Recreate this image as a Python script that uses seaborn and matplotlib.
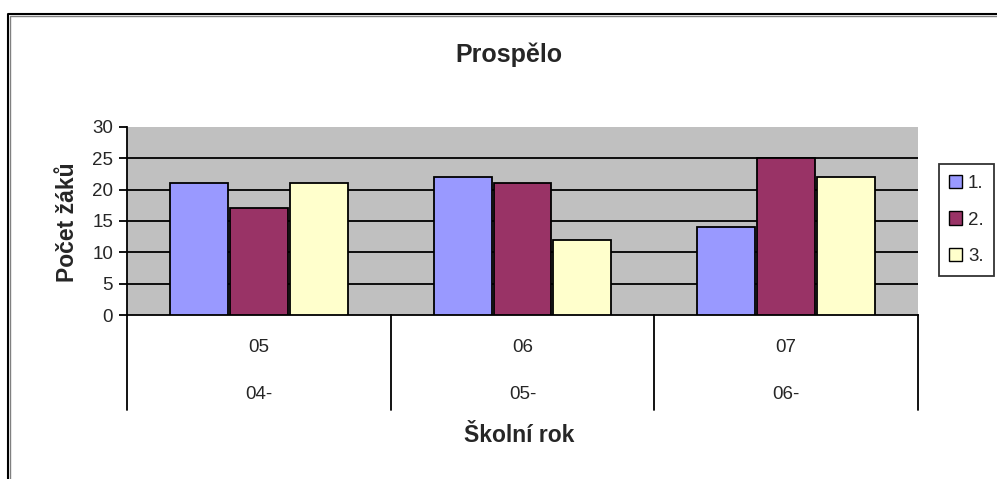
import matplotlib
matplotlib.use("Agg")
import matplotlib.pyplot as plt
from matplotlib.lines import Line2D
from matplotlib.patches import Patch
import matplotlib.transforms as mtransforms
import seaborn as sns
import pandas as pd

# ---- data ----
categories_top = ["05", "06", "07"]
categories_bottom = ["04-", "05-", "06-"]
series_names = ["1.", "2.", "3."]
values_1 = [21, 22, 14]
values_2 = [17, 21, 25]
values_3 = [21, 12, 22]
colors = ["#9999FF", "#993366", "#FFFFCC"]
y_ticks = [0, 5, 10, 15, 20, 25, 30]

rows = []
for s, vals in zip(series_names, [values_1, values_2, values_3]):
    for c, v in zip(categories_top, vals):
        rows.append({"cat": c, "series": s, "value": v})
df = pd.DataFrame(rows)

sns.set_theme(style="white")
plt.rcParams['font.family'] = ['Liberation Sans', 'DejaVu Sans']

W, H = 997, 479
fig = plt.figure(figsize=(W / 100, H / 100), dpi=100)
fig.patch.set_facecolor("white")

left, right, top, bottom = 127, 918, 127, 315
ax = fig.add_axes([left / W, 1 - bottom / H, (right - left) / W, (bottom - top) / H])
ax.set_facecolor("#C0C0C0")

sns.barplot(data=df, x="cat", y="value", hue="series", order=categories_top,
            hue_order=series_names, palette=colors, saturation=1, width=0.68, gap=0.03,
            edgecolor="black", linewidth=1.3, ax=ax, legend=False, zorder=3)

ax.set_ylim(0, 30)
ax.set_xlim(-0.5, 2.5)
ax.set_yticks(y_ticks)
ax.set_yticklabels([str(t) for t in y_ticks], fontsize=13.5)
for t in [5, 10, 15, 20, 25]:
    ax.axhline(t, color="black", linewidth=1.3, zorder=1)

ax.tick_params(axis="y", direction="out", length=6, width=1.3, color="black", pad=4, left=True)
ax.tick_params(axis="x", bottom=False, labelbottom=False)
ax.set_xlabel("")
ax.set_ylabel("")

for side in ["top", "right"]:
    ax.spines[side].set_visible(False)
for side in ["left", "bottom"]:
    ax.spines[side].set_color("black")
    ax.spines[side].set_linewidth(1.3)

# multi-level category axis
trans = mtransforms.blended_transform_factory(ax.transData, ax.transAxes)
for xb in [-0.5, 0.5, 1.5, 2.5]:
    ax.plot([xb, xb], [0, -0.505], transform=trans, color="black", lw=1.3, clip_on=False)
for i, (a, b) in enumerate(zip(categories_top, categories_bottom)):
    ax.text(i, -0.175, a, transform=trans, ha="center", va="center", fontsize=13.5)
    ax.text(i, -0.425, b, transform=trans, ha="center", va="center", fontsize=13.5)

# titles
fig.text(509 / W, 1 - 55 / H, "Prospělo", ha="center", va="center", fontsize=18, fontweight="bold")
fig.text(519 / W, 1 - 436 / H, "Školní rok", ha="center", va="center", fontsize=16.5, fontweight="bold")
fig.text(67 / W, 1 - 222 / H, "Počet žáků", ha="center", va="center", rotation=90,
         fontsize=16.5, fontweight="bold")

# legend
handles = [Patch(facecolor=c, edgecolor="black", linewidth=1) for c in colors]
leg = fig.legend(handles, series_names, loc="center left",
                 bbox_to_anchor=(939 / W, 1 - 220 / H), frameon=True, fancybox=False,
                 edgecolor="black", fontsize=13.5, handlelength=0.7, handleheight=0.7,
                 handletextpad=0.3, labelspacing=1.05, borderpad=0.55, borderaxespad=0)
leg.get_frame().set_linewidth(1.3)

# outer frame (top and left edges visible)
fig.add_artist(Line2D([8 / W, 8 / W, 1.0], [0, 1 - 14 / H, 1 - 14 / H],
                      transform=fig.transFigure, color="black", lw=1.5))
fig.add_artist(Line2D([9.5 / W, 9.5 / W, 1.0], [0, 1 - 15.5 / H, 1 - 15.5 / H],
                      transform=fig.transFigure, color="#808080", lw=1))

fig.savefig("out.png", dpi=100)
